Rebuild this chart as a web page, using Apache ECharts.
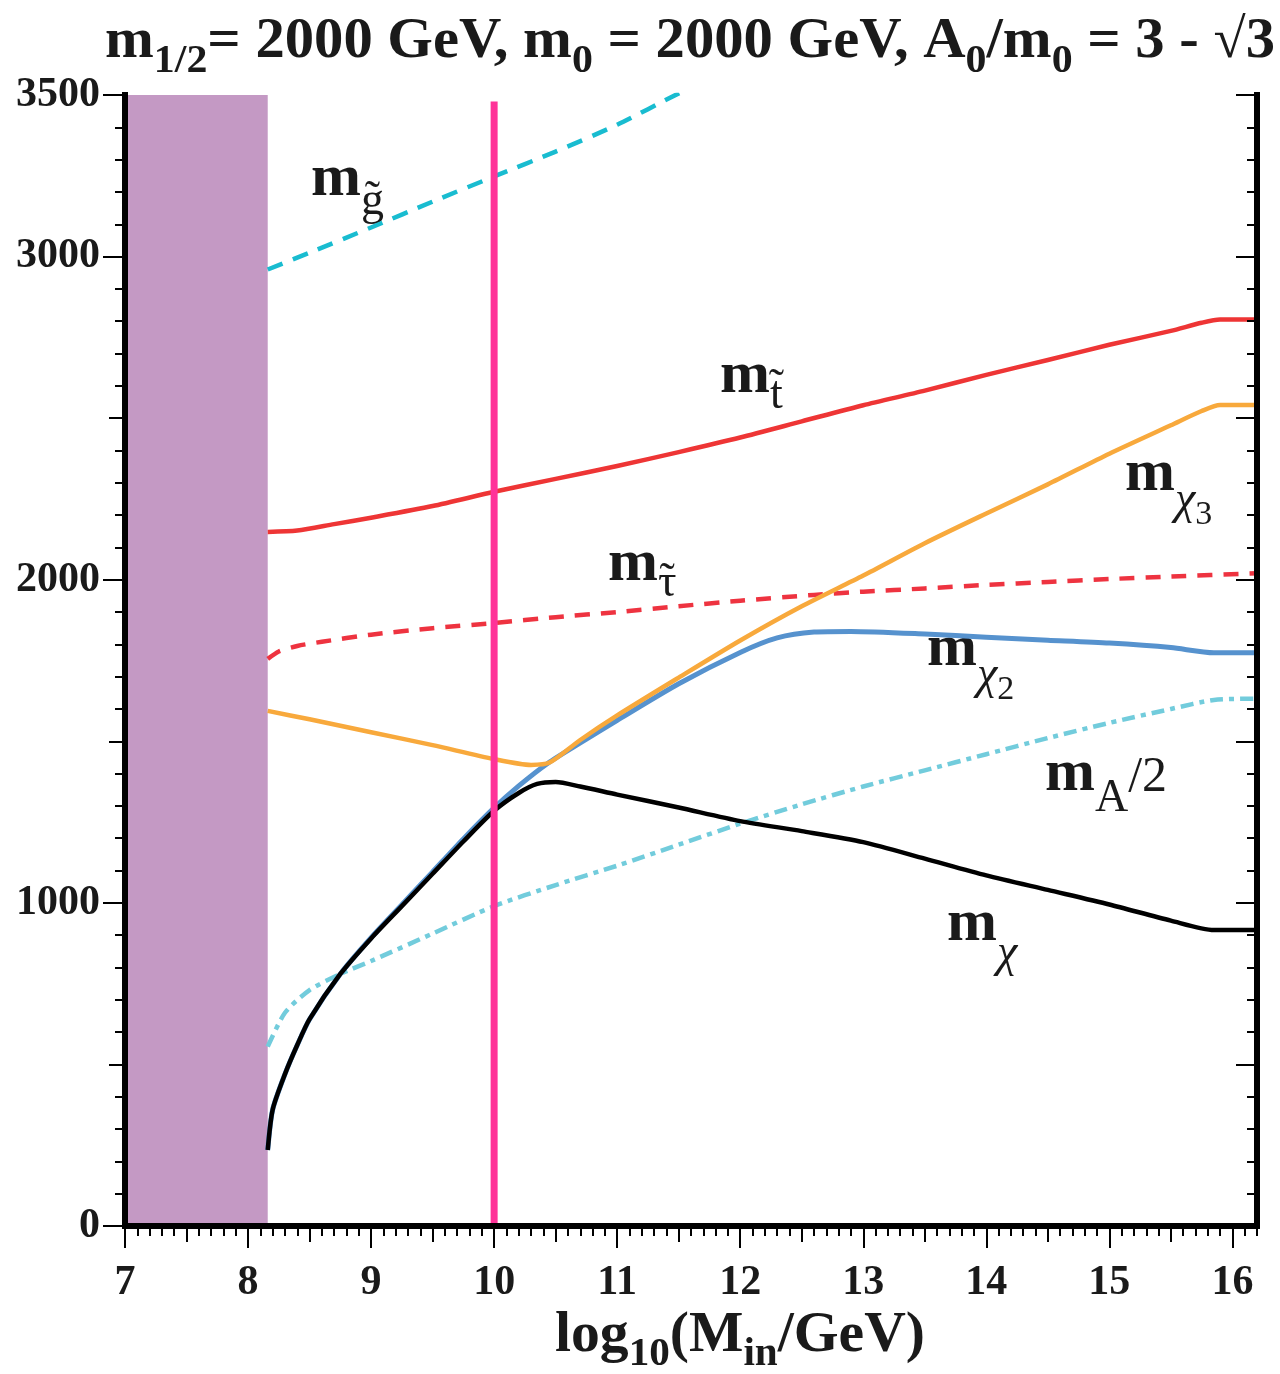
<!DOCTYPE html>
<html><head><meta charset="utf-8">
<script src="https://cdn.jsdelivr.net/npm/echarts@6/dist/echarts.min.js"></script>
<style>html,body{margin:0;padding:0;background:#fff}#c{width:1280px;height:1374px}</style>
</head><body><div id="c"></div>
<script>
// ---------------- data ----------------
const xRange = [7, 16.2];
const yRange = [0, 3500];
const excludedBandX = [7, 8.16];
const refLineX = 10;

const gluinoX = [8.16, 8.5, 9, 9.5, 10, 10.5, 11, 11.5, 11.8];
const gluinoY = [2960, 3012, 3090, 3170, 3248, 3325, 3408, 3505, 3560];

const stopX = [8.16, 8.4, 8.7, 9, 9.5, 10, 10.5, 11, 11.5, 12, 12.5, 13, 13.5, 14, 14.5, 15, 15.5, 15.75, 15.9, 16.2];
const stopY = [2148, 2152, 2172, 2192, 2228, 2272, 2312, 2352, 2395, 2440, 2490, 2540, 2585, 2634, 2680, 2727, 2770, 2795, 2805, 2805];

const stauX = [8.16, 8.25, 8.4, 8.6, 9, 9.5, 10, 10.5, 11, 11.5, 12, 12.6, 13, 13.5, 14, 14.5, 15, 15.5, 16.2];
const stauY = [1755, 1778, 1795, 1808, 1830, 1850, 1866, 1884, 1900, 1918, 1935, 1953, 1963, 1973, 1984, 1993, 2002, 2010, 2020];

const chi3X = [8.16, 8.5, 9, 9.5, 10, 10.3, 10.45, 10.7, 11, 11.5, 12, 12.5, 13, 13.5, 14, 14.5, 15, 15.5, 15.75, 15.9, 16.2];
const chi3Y = [1594, 1568, 1528, 1488, 1445, 1427, 1434, 1504, 1580, 1697, 1812, 1918, 2013, 2113, 2205, 2295, 2390, 2478, 2522, 2541, 2541];

const chi2X = [8.16, 8.2, 8.3, 8.4, 8.5, 8.75, 9, 9.25, 9.5, 9.75, 10, 10.2, 10.44, 10.7, 11, 11.5, 12, 12.3, 12.6, 12.9, 13.5, 14, 14.5, 15, 15.5, 15.85, 16.2];
const chi2Y = [235, 360, 470, 560, 640, 780, 892, 994, 1096, 1198, 1294, 1362, 1433, 1495, 1565, 1678, 1775, 1820, 1838, 1840, 1832, 1822, 1813, 1804, 1790, 1774, 1774];

const chi1X = [8.16, 8.2, 8.3, 8.4, 8.5, 8.75, 9, 9.25, 9.5, 9.75, 10, 10.2, 10.35, 10.5, 10.7, 11, 11.5, 12, 12.5, 13, 13.5, 14, 14.5, 15, 15.5, 15.85, 16.2];
const chi1Y = [235, 360, 470, 560, 640, 780, 890, 990, 1090, 1190, 1285, 1340, 1368, 1374, 1360, 1335, 1295, 1253, 1222, 1188, 1137, 1085, 1040, 995, 945, 916, 916];

const mAhalfX = [8.16, 8.3, 8.5, 8.75, 9, 9.5, 10, 10.5, 11, 11.5, 12, 12.5, 13, 13.5, 14, 14.5, 15, 15.5, 15.85, 16.2];
const mAhalfY = [555, 660, 730, 780, 820, 905, 990, 1055, 1115, 1180, 1245, 1305, 1360, 1410, 1460, 1510, 1557, 1600, 1628, 1632];

const xTickLabels = [7, 8, 9, 10, 11, 12, 13, 14, 15, 16];
const yTickLabels = [0, 1000, 2000, 3000, 3500];

// ---------------- helpers ----------------
function range(a, b, step) { const r = []; const n = Math.round((b - a) / step); for (let i = 0; i <= n; i++) r.push(+(a + i * step).toFixed(4)); return r; }
const xMajor = xTickLabels;
const xHalf = range(7, 16, 0.5);
const xMinor = range(7, 16.2, 0.1);
const yMajor = range(0, 3500, 500);
const yLong = range(0, 3000, 1000).concat([3500]);
const yMinor = range(0, 3500, 100);

const FONT = '"Liberation Serif", "Times New Roman", serif';
const INK = '#1a1a1a';
const gridBox = { left: 125, right: 23, top: 95, bottom: 148 };

function xAx(gridIndex, position, ticks, len, inside, extra) {
  return Object.assign({
    type: 'value', gridIndex, position, min: xRange[0], max: xRange[1], interval: 1, z: 6,
    axisLine: { show: false }, splitLine: { show: false },
    axisTick: { show: true, inside, length: len, customValues: ticks, lineStyle: { color: '#000', width: 2 } },
    axisLabel: { show: false }
  }, extra || {});
}
function yAx(gridIndex, position, ticks, len, inside, extra) {
  return Object.assign({
    type: 'value', gridIndex, position, min: yRange[0], max: yRange[1], interval: 500, z: 6,
    axisLine: { show: false }, splitLine: { show: false },
    axisTick: { show: true, inside, length: len, customValues: ticks, lineStyle: { color: '#000', width: 2 } },
    axisLabel: { show: false }
  }, extra || {});
}
const frameLine = { show: true, lineStyle: { color: '#000', width: 6, cap: 'square' } };

function curve(name, xs, ys, color, dash, width, z) {
  return {
    type: 'line', name, data: xs.map((x, i) => [x, ys[i]]), xAxisIndex: 0, yAxisIndex: 0,
    showSymbol: false, symbol: 'none', smooth: 0.25, clip: true, silent: true,
    lineStyle: { color, width, type: dash || 'solid', cap: 'butt', join: 'round' }, z: z || 2
  };
}

// text with sub/superscripts laid out by measuring
const mctx = document.createElement('canvas').getContext('2d');
function fontStr(s) { return (s.italic ? 'italic ' : '') + (s.bold ? 'bold ' : '') + s.size + 'px ' + FONT; }
function textLine(x0, baseline, segs, fitWidth) {
  let x = 0; const children = [];
  segs.forEach(s => {
    const f = fontStr(s);
    mctx.font = f;
    const w = mctx.measureText(s.t).width;
    const px = x + (s.dx || 0);
    children.push({
      type: 'text', x: px, y: (s.dy || 0) - 0.34 * s.size,
      style: { text: s.t, font: f, fill: INK, align: 'left', verticalAlign: 'middle' }
    });
    if (s.acc) {
      children.push({
        type: 'text', x: px + w / 2 + (s.accDx || 0), y: (s.dy || 0) + (s.accDy || 0) - 0.34 * s.size,
        style: { text: '\u02DC', font: s.size + 'px ' + FONT, fill: INK, align: 'center', verticalAlign: 'middle' }
      });
    }
    x += w + (s.dx || 0) + (s.gap || 0);
  });
  const sx = fitWidth ? fitWidth / x : 1;
  return { type: 'group', x: x0, y: baseline, scaleX: sx, children, z: 20 };
}

const T = 56, TS = 40;
const title = textLine(105, 62, [
  { t: 'm', size: T, bold: true }, { t: '1/2', size: TS, bold: true, dy: 13 },
  { t: '= 2000 GeV, m', size: T, bold: true }, { t: '0', size: TS, bold: true, dy: 13 },
  { t: ' = 2000 GeV, A', size: T, bold: true }, { t: '0', size: TS, bold: true, dy: 13 },
  { t: '/m', size: T, bold: true }, { t: '0', size: TS, bold: true, dy: 13 },
  { t: ' = 3 - \u221A3', size: T, bold: true }
], 1170);

const xName = textLine(555, 1356, [
  { t: 'log', size: 56, bold: true }, { t: '10', size: 40, bold: true, dy: 12 },
  { t: '(M', size: 56, bold: true }, { t: 'in', size: 40, bold: true, dy: 12 },
  { t: '/GeV)', size: 56, bold: true }
], 370);

const M = 60, S = 46, SS = 34;
const curveLabels = [
  textLine(311, 200, [{ t: 'm', size: M, bold: true }, { t: 'g', size: S, dy: 18, acc: true, accDy: -2 }]),
  textLine(720, 397, [{ t: 'm', size: M, bold: true }, { t: 't', size: S, dy: 15, acc: true, accDy: -8 }]),
  textLine(1125, 495, [{ t: 'm', size: M, bold: true }, { t: '\u03C7', size: S, italic: true, dy: 22 }, { t: '3', size: SS, dy: 32 }]),
  textLine(608, 585, [{ t: 'm', size: M, bold: true }, { t: '\u03C4', size: S, dy: 15, acc: true, accDy: -2 }]),
  textLine(927, 670, [{ t: 'm', size: M, bold: true }, { t: '\u03C7', size: S, italic: true, dy: 22 }, { t: '2', size: SS, dy: 32 }]),
  textLine(1045, 795, [{ t: 'm', size: M, bold: true }, { t: 'A', size: S, dy: 20 }, { t: '/2', size: 50 }]),
  textLine(947, 945, [{ t: 'm', size: M, bold: true }, { t: '\u03C7', size: S, italic: true, dy: 25 }])
];

const option = {
  animation: false,
  backgroundColor: '#fff',
  grid: [Object.assign({}, gridBox), Object.assign({}, gridBox), Object.assign({}, gridBox)],
  xAxis: [
    xAx(0, 'bottom', xMajor, 22, false, {
      axisLine: frameLine,
      axisLabel: { show: true, customValues: xTickLabels, margin: 36, fontFamily: FONT, fontWeight: 'bold', fontSize: 42, color: INK,
        formatter: v => (xTickLabels.indexOf(v) >= 0 ? String(v) : '') }
    }),
    xAx(0, 'top', xMajor, 20, true, { axisLine: frameLine }),
    xAx(1, 'bottom', xHalf, 16, false),
    xAx(1, 'top', xHalf, 14, true),
    xAx(2, 'bottom', xMinor, 9, false),
    xAx(2, 'top', xMinor, 10, true)
  ],
  yAxis: [
    yAx(0, 'left', yMajor, 16, false, {
      axisLine: frameLine,
      axisLabel: { show: true, customValues: yTickLabels, margin: 25, fontFamily: FONT, fontWeight: 'bold', fontSize: 42, color: INK,
        formatter: v => (yTickLabels.indexOf(v) >= 0 ? String(v) : '') }
    }),
    yAx(0, 'right', yMajor, 21, true, { axisLine: frameLine }),
    yAx(1, 'left', yLong, 22, false),
    yAx(1, 'right', yMajor, 21, true, { axisTick: { show: false } }),
    yAx(2, 'left', yMinor, 10, false),
    yAx(2, 'right', yMinor, 10, true)
  ],
  series: [
    {
      type: 'line', name: 'excluded', xAxisIndex: 0, yAxisIndex: 0, silent: true,
      data: [[excludedBandX[0], yRange[1]], [excludedBandX[1], yRange[1]]],
      showSymbol: false, symbol: 'none', lineStyle: { width: 0 },
      areaStyle: { color: '#C499C4', opacity: 1, origin: 'start' }, z: 1
    },
    curve('gluino', gluinoX, gluinoY, '#19BCD0', [16, 11], 4.5),
    curve('stop', stopX, stopY, '#EE3535', null, 4.5),
    curve('stau', stauX, stauY, '#EE3340', [15, 11], 4.5),
    curve('mA/2', mAhalfX, mAhalfY, '#72CCDC', [13, 6, 5, 6], 4.5),
    curve('chi2', chi2X, chi2Y, '#5692CE', null, 5, 2),
    curve('chi1', chi1X, chi1Y, '#000000', null, 4.5, 3),
    curve('chi3', chi3X, chi3Y, '#F8A93C', null, 4.5, 3),
    {
      type: 'line', name: 'Min=10', xAxisIndex: 0, yAxisIndex: 0, silent: true,
      data: [[refLineX, yRange[0]], [refLineX, yRange[1] - 20]], showSymbol: false, symbol: 'none',
      lineStyle: { color: '#FF3399', width: 7 }, z: 4
    }
  ],
  graphic: [title, xName].concat(curveLabels)
};

const chart = echarts.init(document.getElementById('c'), null, { renderer: 'canvas' });
chart.setOption(option);
</script>
</body></html>
